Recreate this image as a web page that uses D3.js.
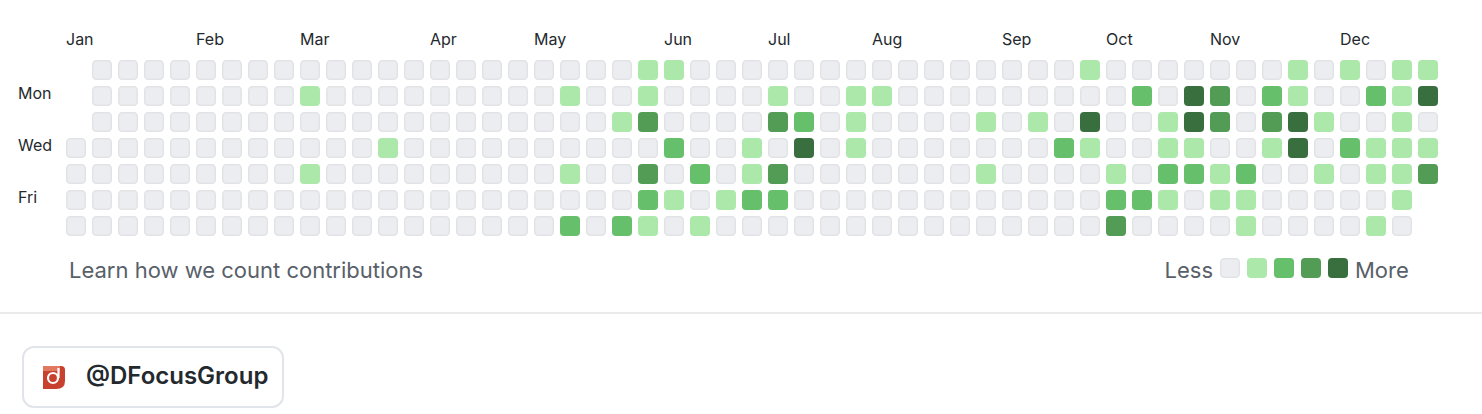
<!DOCTYPE html>
<html><head><meta charset="utf-8">
<script src="https://cdn.jsdelivr.net/npm/d3@7"></script>
<style>html,body{margin:0;padding:0;background:#fff;overflow:hidden}svg{display:block}text{font-family:Inter,"Noto Sans",sans-serif}</style>
</head><body><div id="chart"></div>
<script>
const months = ["Jan","Feb","Mar","Apr","May","Jun","Jul","Aug","Sep","Oct","Nov","Dec"];
const monthWeeks = [0,5,9,14,18,23,27,31,36,40,44,49];
const dayLabels = [[1,"Mon"],[3,"Wed"],[5,"Fri"]];
const legendLevels = [0,1,2,3,4];
const levelColors = ["#ebedf0","#abe8aa","#66bf6a","#529c56","#396e3e"];
const N = null;
const sunday =    [N,0,0,0,0,0,0,0,0,0,0,0,0,0,0,0,0,0,0,0,0,0,1,1,0,0,0,0,0,0,0,0,0,0,0,0,0,0,0,1,0,0,0,0,0,0,0,1,0,1,0,1,1];
const monday =    [N,0,0,0,0,0,0,0,0,1,0,0,0,0,0,0,0,0,0,1,0,0,1,0,0,0,0,1,0,0,1,1,0,0,0,0,0,0,0,0,0,2,0,4,3,0,2,1,0,0,2,1,4];
const tuesday =   [N,0,0,0,0,0,0,0,0,0,0,0,0,0,0,0,0,0,0,0,0,1,3,0,0,0,0,3,2,0,1,0,0,0,0,1,0,1,0,4,0,0,1,4,3,0,3,4,1,0,0,1,0];
const wednesday = [0,0,0,0,0,0,0,0,0,0,0,0,1,0,0,0,0,0,0,0,0,0,0,2,0,0,1,0,4,0,1,0,0,0,0,0,0,0,2,1,0,0,1,1,0,0,1,4,0,2,1,1,1];
const thursday =  [0,0,0,0,0,0,0,0,0,1,0,0,0,0,0,0,0,0,0,1,0,0,3,0,2,0,1,3,0,0,0,0,0,0,0,1,0,0,0,0,1,0,2,2,1,2,0,0,1,0,1,1,3];
const friday =    [0,0,0,0,0,0,0,0,0,0,0,0,0,0,0,0,0,0,0,0,0,0,2,1,0,1,2,2,0,0,0,0,0,0,0,0,0,0,0,0,2,2,1,0,1,1,0,0,0,0,0,1,N];
const saturday =  [0,0,0,0,0,0,0,0,0,0,0,0,0,0,0,0,0,0,0,2,0,2,1,0,1,0,0,0,0,0,0,0,0,0,0,0,0,0,0,0,3,0,0,0,0,1,0,0,0,0,1,0,N];
const weekdays = [sunday,monday,tuesday,wednesday,thursday,friday,saturday];
const footnote = "Learn how we count contributions";
const handle = "@DFocusGroup";

const W = 1482, H = 414, pitch = 26, cell = 20, sw = 1.5;
const svg = d3.select("#chart").append("svg").attr("width",W).attr("height",H);
const x = d3.scaleLinear().domain([0,1]).range([66,66+pitch]);
const y = d3.scaleLinear().domain([0,1]).range([60,60+pitch]);
const color = d3.scaleOrdinal().domain(legendLevels).range(levelColors);
const edge = "#e1e3e6";

function square(sel){
  return sel.attr("width",d=>d.level===0?cell-sw:cell).attr("height",d=>d.level===0?cell-sw:cell)
    .attr("rx",d=>d.level===0?3.5:4)
    .attr("fill",d=>color(d.level))
    .attr("stroke",d=>d.level===0?edge:"none").attr("stroke-width",sw);
}
const cells = weekdays.flatMap((vals,r)=>vals.map((level,c)=>({r,c,level}))).filter(d=>d.level!==null);
square(svg.append("g").selectAll("rect").data(cells).join("rect")
  .attr("x",d=>x(d.c)+(d.level===0?sw/2:0)).attr("y",d=>y(d.r)+(d.level===0?sw/2:0)));

svg.append("g").selectAll("text").data(months).join("text")
  .attr("x",(d,i)=>x(monthWeeks[i])).attr("y",45).attr("font-size",16).attr("fill","#24292e").text(d=>d);
svg.append("g").selectAll("text").data(dayLabels).join("text")
  .attr("x",18).attr("y",d=>y(d[0])+18-5).attr("dy",0).attr("font-size",16).attr("fill","#24292e").text(d=>d[1]);

svg.append("text").attr("x",69).attr("y",278).attr("font-size",22).attr("fill","#586069").text(footnote);

const lx = d3.scaleLinear().domain([0,1]).range([1220,1247]);
svg.append("text").attr("x",1213).attr("y",278).attr("text-anchor","end").attr("font-size",22).attr("fill","#586069").text("Less");
square(svg.append("g").selectAll("rect").data(legendLevels.map(level=>({level}))).join("rect")
  .attr("x",d=>lx(d.level)+(d.level===0?sw/2:0)).attr("y",d=>258+(d.level===0?sw/2:0)));
svg.append("text").attr("x",1355).attr("y",278).attr("font-size",22).attr("fill","#586069").text("More");

svg.append("line").attr("x1",0).attr("x2",W).attr("y1",313).attr("y2",313).attr("stroke","#e3e3e3").attr("stroke-width",1.6);
svg.append("rect").attr("x",23).attr("y",347).attr("width",260).attr("height",60).attr("rx",11)
  .attr("fill","#fff").attr("stroke","#e1e4e8").attr("stroke-width",2);

const logo = svg.append("g");
logo.append("path").attr("d","M43 366 H61 Q65 366 65 370 V381 Q65 389 56 389 H43 Z").attr("fill","#c8402e");
logo.append("path").attr("d","M43 366 H60 V371 H43 Z").attr("fill","#e0795f");
logo.append("circle").attr("cx",53).attr("cy",378).attr("r",5).attr("fill","none").attr("stroke","#fff").attr("stroke-width",2.2);
logo.append("path").attr("d","M58.5 368 V378").attr("stroke","#fff").attr("stroke-width",2.2).attr("fill","none");
svg.append("text").attr("x",86).attr("y",384).attr("font-size",24).attr("font-weight",600).attr("fill","#24292e").text(handle);
</script></body></html>
